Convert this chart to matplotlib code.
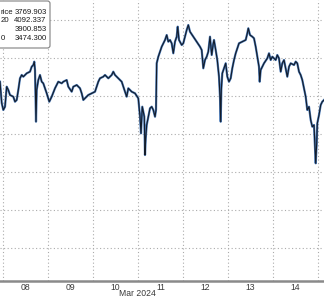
import matplotlib
matplotlib.use("Agg")
import matplotlib.pyplot as plt
import matplotlib.dates as mdates
from matplotlib.patches import FancyBboxPatch
import pandas as pd

# ---- data (hours after 2024-03-08 00:00, price) ----
hours = [-1.6, -0.69, 0.16, 1.07, 1.97, 2.83, 3.73, 5.49, 6.4, 7.31, 8.16, 9.07, 9.97, 10.83,
         12.64, 14.4, 15.31, 16.16, 16.69, 17.07, 17.6, 17.97, 18.83, 19.73, 20.64, 21.49,
         23.31, 24.69, 25.97, 27.73, 29.49, 31.31, 32.16, 33.97, 34.83, 36.64, 37.49, 39.31,
         41.07, 41.97, 42.83, 43.73, 45.49, 47.31, 49.07, 49.97, 50.83, 51.73, 53.49,
         54.4, 56.16, 57.97, 58.83, 59.73, 61.49, 63.31, 64.16, 65.07, 65.97, 66.83, 68.64,
         70.4, 72.16, 73.07, 73.6, 74.29, 75.36, 75.73, 76.11, 76.64, 77.49, 78.4, 79.31,
         80.16, 81.07, 81.6, 81.97, 82.83, 83.73, 84.64, 86.4, 87.31, 88.16, 89.07, 89.97,
         90.83, 91.73, 92.64, 93.17, 93.87, 95.31, 96.16, 97.07, 97.97, 98.83, 99.73, 101.49,
         103.31, 105.07, 105.97, 106.83, 107.73, 108.64, 109.49, 110.4, 111.31, 112.16,
         112.53, 113.44, 114.29, 115.2, 115.73, 116.11, 116.43, 116.96, 117.87, 118.77,
         119.63, 120.53, 121.44, 122.29, 123.2, 124.11, 124.96, 125.87, 127.63, 129.44,
         130.29, 130.83, 131.73, 132.96, 133.87, 134.77, 135.63, 136.53, 136.91, 137.44,
         139.2, 140.96, 141.87, 142.77, 143.63, 145.44, 146.29, 147.2, 148.11, 148.96,
         149.87, 151.63, 152.53, 153.44, 155.2, 156.11, 156.96, 157.87, 158.77, 159.63,
         160.53, 161.44, 162.29, 163.2, 164.11, 164.96, 165.87, 166.24, 166.77, 167.31,
         167.63, 168.53, 169.44, 170.29, 171.2]
prices = [3937.6, 3881.6, 3863.2, 3871.8, 3924.5, 3915.8, 3902.6, 3898.2, 3885.0, 3889.5,
          3915.8, 3946.6, 3955.3, 3950.8, 3959.7, 3964.0, 3977.1, 3981.6, 3990.3, 3968.4,
          3832.4, 3915.8, 3942.1, 3955.3, 3937.6, 3933.4, 3907.1, 3885.0, 3898.2, 3920.3,
          3937.6, 3933.4, 3937.6, 3942.1, 3924.5, 3911.3, 3924.5, 3928.9, 3920.3, 3907.1,
          3889.5, 3893.9, 3902.6, 3907.1, 3911.3, 3924.5, 3937.6, 3946.6, 3950.8,
          3955.3, 3946.6, 3955.3, 3964.0, 3955.3, 3946.6, 3937.6, 3924.5, 3911.3, 3898.2,
          3920.3, 3911.3, 3907.1, 3893.9, 3845.5, 3801.8, 3871.8, 3845.5, 3744.7, 3788.7,
          3823.7, 3845.5, 3867.6, 3871.8, 3863.2, 3845.5, 3863.2, 3986.1, 4003.4, 4016.6,
          4029.7, 4047.4, 4060.5, 4042.9, 4047.4, 4038.7, 4012.4, 4042.9, 4056.1, 4082.4,
          4047.4, 4034.2, 4038.7, 4056.1, 4073.7, 4086.8, 4069.2, 4056.1, 4042.9, 4029.7,
          4021.1, 3972.9, 3994.7, 4003.4, 4016.6, 4056.1, 4007.9, 4038.7,
          4047.4, 4021.1, 3994.7, 3950.8, 3898.2, 3832.4, 3915.8, 3959.7, 3972.9, 3986.1,
          3950.8, 3937.6, 3946.6, 3972.9, 3994.7, 4012.4, 4025.5, 4038.7, 4042.9, 4047.4,
          4065.0, 4078.2, 4060.5, 4056.1, 4051.8, 4029.7, 4003.4, 3977.1, 3937.6, 3968.4,
          3986.1, 3999.2, 4012.4, 3994.7, 4003.4, 3994.7, 4007.9, 3999.2, 3964.0, 3986.1,
          3994.7, 3950.8, 3977.1, 3986.1, 3981.6, 3990.5, 3986.1, 3964.0, 3955.3, 3942.1,
          3920.3, 3898.2, 3863.2, 3871.8, 3836.8, 3819.2, 3823.7, 3784.2, 3722.9, 3775.5,
          3828.2, 3850.0, 3876.3, 3885.0, 3889.5]
# legend rows: only the tail of each label is visible in the cropped chart
legend_labels = ["rice", "20", "", "0"]
legend_values = ["3769.903", "4092.337", "3900.853", "3474.300"]
gridline_values = [3500, 3600, 3700, 3800, 3900, 4000, 4100]
axis_title = "Mar 2024"

base = pd.Timestamp("2024-03-08")
times = [base + pd.Timedelta(hours=h) for h in hours]

W, H = 324, 301
fig = plt.figure(figsize=(W / 100, H / 100), dpi=100)
fig.patch.set_facecolor("white")

def fx(x):
    return x / W

def fy(y):
    return 1 - y / H

ax = fig.add_axes([0, fy(281), 1, 281 / H])
ax.set_facecolor("white")

ax.plot(times, prices, color="#4a7ab8", lw=1.6, zorder=3)
ax.plot(times, prices, color="#131c2a", lw=0.8, zorder=4)

ax.set_xlim(base + pd.Timedelta(hours=-1.6), base + pd.Timedelta(hours=171.2))
ax.set_ylim(3413.16, 4152.63)

ax.xaxis.set_major_locator(mdates.DayLocator())
ax.xaxis.set_major_formatter(plt.NullFormatter())
ax.xaxis.set_minor_locator(mdates.HourLocator(byhour=[12]))
ax.xaxis.set_minor_formatter(mdates.DateFormatter("%d"))
ax.tick_params(axis="x", which="both", length=0, pad=1.2, labelsize=6.2,
               labelcolor="#3a3a3a")
for lab in ax.xaxis.get_minorticklabels():
    lab.set_fontfamily("Liberation Sans")
ax.set_yticks(gridline_values)
ax.tick_params(axis="y", length=0, labelleft=False)
ax.grid(True, which="major", axis="both", color="#ababab", lw=0.8,
        linestyle=(0, (1, 2.2)))
for s in ["top", "right", "left"]:
    ax.spines[s].set_visible(False)
ax.spines["bottom"].set_color("#8a8a8a")
ax.spines["bottom"].set_linewidth(1.8)

fig.text(fx(137.5), fy(293.5), axis_title, ha="center", va="center",
         fontsize=6.2, color="#3a3a3a", family="Liberation Sans")

# legend box (extends past the left edge of the cropped picture)
box = FancyBboxPatch((fx(-120), fy(48)), fx(170), 47 / H,
                     boxstyle="round,pad=0,rounding_size=0.008",
                     transform=fig.transFigure, facecolor="white",
                     edgecolor="#808080", lw=0.8, zorder=10)
fig.patches.append(box)
row_y = [12.3, 21.0, 29.8, 39.0]
for lab, val, yy in zip(legend_labels, legend_values, row_y):
    if lab:
        fig.text(fx(0.3), fy(yy), lab, ha="left", va="center", fontsize=5.6,
                 color="#1a1a1a", family="Liberation Sans", zorder=11)
    fig.text(fx(46.5), fy(yy), val, ha="right", va="center", fontsize=5.6,
             color="#1a1a1a", family="Liberation Sans", zorder=11)

fig.savefig("out.png", dpi=100)
